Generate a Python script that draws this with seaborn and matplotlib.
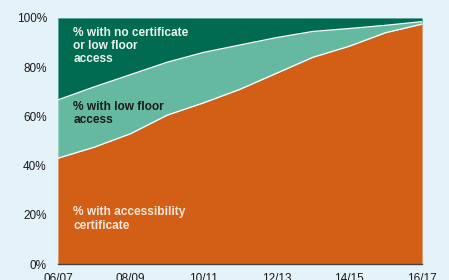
import matplotlib
matplotlib.use("Agg")
import matplotlib.pyplot as plt
import seaborn as sns
import numpy as np

# ── Data ─────────────────────────────────────────────────────────────────────
years = ["06/07", "07/08", "08/09", "09/10", "10/11", "11/12",
         "12/13", "13/14", "14/15", "15/16", "16/17"]
pct_certificate = [43, 47.5, 53, 60.5, 65.5, 71, 77.5, 84, 88.5, 94, 97.5]
pct_low_floor   = [23.7, 24.5, 24, 21.5, 20.5, 18, 14.5, 10.5, 7.2, 3, 1]
pct_none        = [100 - a - b for a, b in zip(pct_certificate, pct_low_floor)]
tick_years = ["06/07", "08/09", "10/11", "12/13", "14/15", "16/17"]

# ── Style ────────────────────────────────────────────────────────────────────
BG       = '#E4F2FA'
ORANGE   = '#D35F16'
LT_GREEN = '#66B9A1'
DK_GREEN = '#016B51'

sns.set_style("white", {'axes.facecolor': BG, 'figure.facecolor': BG})
plt.rcParams['font.family'] = ['Liberation Sans', 'DejaVu Sans']

fig, ax = plt.subplots(figsize=(4.49, 2.80), dpi=100)
fig.subplots_adjust(left=0.129, right=0.940, top=0.936, bottom=0.057)

x = np.arange(len(years))
ax.stackplot(x, pct_certificate, pct_low_floor, pct_none,
             colors=[ORANGE, LT_GREEN, DK_GREEN], linewidth=0)

# white boundary lines between the bands
cum1 = np.array(pct_certificate)
cum2 = cum1 + np.array(pct_low_floor)
sns.lineplot(x=x, y=cum1, color='white', linewidth=0.9, ax=ax)
sns.lineplot(x=x, y=cum2, color='white', linewidth=0.9, ax=ax)

ax.set_xlim(0, len(years) - 1)
ax.set_ylim(0, 100)
ax.set_yticks(range(0, 101, 20))
ax.set_yticklabels([f"{v}%" for v in range(0, 101, 20)])
ax.set_xticks([years.index(t) for t in tick_years])
ax.set_xticklabels(tick_years)
ax.tick_params(axis='both', length=0, labelsize=8.5, colors='#1a1a1a')
ax.tick_params(axis='y', pad=8)
ax.tick_params(axis='x', pad=6.5)

for side in ['top', 'right', 'left']:
    ax.spines[side].set_visible(False)
ax.spines['bottom'].set_color('#444444')
ax.spines['bottom'].set_linewidth(1.0)

# band labels
ax.text(0.42, 96.2, "% with no certificate\nor low floor\naccess", fontsize=8.6,
        fontweight='bold', color='#EAF2EE', va='top', ha='left', linespacing=1.12)
ax.text(0.42, 66.3, "% with low floor\naccess", fontsize=8.6,
        fontweight='bold', color='#1a1a1a', va='top', ha='left', linespacing=1.12)
ax.text(0.42, 23.4, "% with accessibility\ncertificate", fontsize=8.6,
        fontweight='bold', color='#F3E6DC', va='top', ha='left', linespacing=1.12)

fig.savefig('out.png', dpi=100, facecolor=BG)
